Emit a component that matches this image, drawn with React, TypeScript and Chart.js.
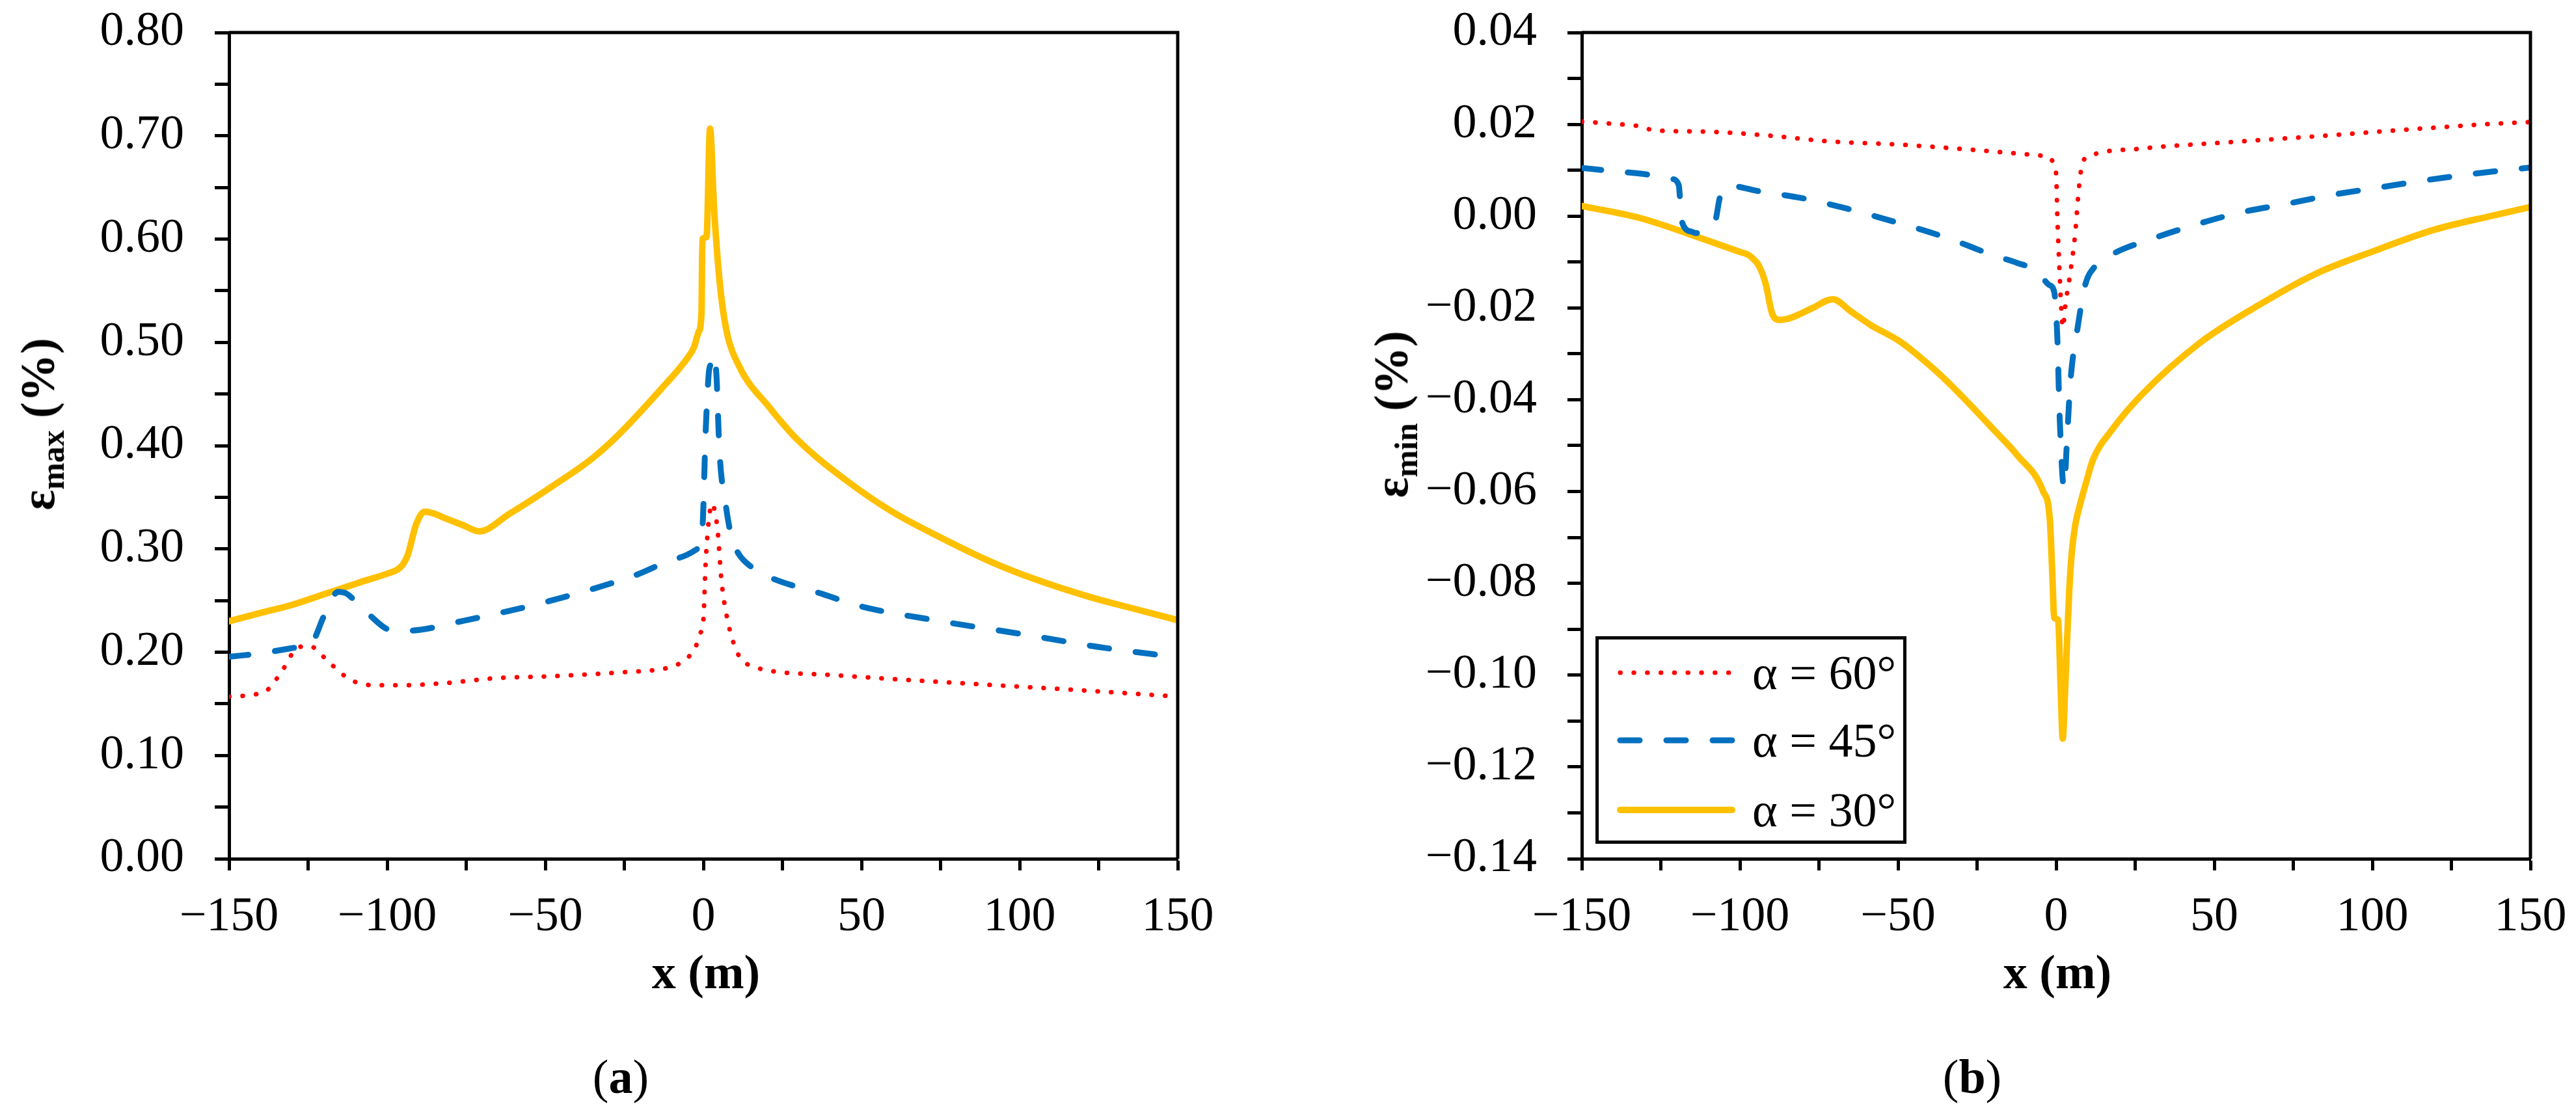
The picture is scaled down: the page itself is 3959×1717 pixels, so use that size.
import { useRef, useEffect } from 'react';
import Chart from 'chart.js/auto';

// (a) maximum strain, x in m, value in %
const maxX60 = [-150, -142, -138, -133, -128.5, -124.7, -118, -111.7, -104, -95, -82, -65, -50, -27, -12.5, -8.5, -4.5, -2.4, -1, 0, 0.7, 1.8, 2.8, 3.7, 4.5, 5.8, 7.9, 10, 12, 16, 21, 40, 60, 92.5, 120, 150];
const maxY60 = [0.157, 0.159, 0.163, 0.183, 0.204, 0.206, 0.189, 0.1735, 0.168, 0.168, 0.17, 0.175, 0.1765, 0.1803, 0.184, 0.1875, 0.196, 0.2055, 0.218, 0.231, 0.285, 0.33, 0.344, 0.335, 0.318, 0.267, 0.2276, 0.205, 0.193, 0.186, 0.182, 0.178, 0.174, 0.168, 0.163, 0.157];

const maxX45 = [-150, -140, -130, -123.7, -120.3, -117.5, -115.5, -113, -111.3, -105.2, -100.4, -96, -92.8, -75, -49.4, -22, -10, -3, -0.3, 0.7, 1.7, 2.2, 3.1, 4.1, 5.1, 7.2, 9, 11.3, 15, 21, 38, 49, 75, 101.8, 125, 150];
const maxY45 = [0.1955, 0.199, 0.204, 0.21, 0.233, 0.252, 0.2585, 0.257, 0.253, 0.235, 0.223, 0.2205, 0.2207, 0.231, 0.249, 0.274, 0.289, 0.298, 0.3216, 0.412, 0.47, 0.478, 0.488, 0.47, 0.394, 0.34, 0.31, 0.2945, 0.283, 0.2725, 0.256, 0.245, 0.23, 0.217, 0.205, 0.195];

const maxX30 = [-150, -140, -129.9, -120, -109.3, -100, -97, -95, -93.5, -90.8, -88.1, -85, -81.9, -76, -70.9, -61.3, -47.6, -35, -27, -13.3, -5, -3, -1.5, -0.6, -0.3, 1.0, 2.1, 3.4, 5.2, 7.2, 11.3, 20.9, 30, 44.9, 59.7, 75, 91.3, 105, 122.7, 135, 150];
const maxY30 = [0.23, 0.238, 0.246, 0.256, 0.267, 0.276, 0.2795, 0.285, 0.294, 0.324, 0.336, 0.334, 0.33, 0.323, 0.317, 0.334, 0.361, 0.388, 0.41, 0.455, 0.485, 0.495, 0.51, 0.528, 0.6, 0.602, 0.707, 0.629, 0.557, 0.513, 0.477, 0.437, 0.405, 0.367, 0.336, 0.311, 0.287, 0.2705, 0.253, 0.243, 0.231];

// (b) minimum strain
const minX60 = [-150, -140, -132, -128, -125, -110, -90, -72, -50, -33, -15, -5, -2, -1, 0, 0.4, 1.1, 1.8, 2.1, 3, 4.5, 6, 7.2, 8.3, 10.6, 26.8, 54.6, 82.3, 110, 137.9, 150];
const minY60 = [0.0206, 0.0201, 0.0196, 0.0188, 0.0186, 0.0184, 0.0175, 0.0163, 0.0156, 0.0148, 0.0138, 0.0132, 0.0128, 0.0118, 0.0092, -0.0004, -0.0123, -0.0221, -0.0243, -0.019, -0.0123, -0.004, 0.006, 0.0115, 0.0131, 0.0147, 0.0161, 0.0174, 0.0188, 0.0201, 0.0205];

const minX45 = [-150, -140, -129.6, -121.4, -119.3, -119, -118.3, -115.2, -113.8, -109.5, -107.7, -106.4, -104.9, -102.3, -94.6, -80.2, -66.5, -52.8, -40, -33, -20, -12.3, -6, -2.2, -0.6, 0.4, 1.1, 2.5, 3.5, 4.5, 6.8, 9.2, 12, 17.5, 30.5, 44.4, 58.3, 73.1, 87, 101.8, 115.7, 130.5, 150];
const minY45 = [0.0105, 0.0098, 0.0091, 0.0081, 0.0067, 0.0044, -0.0013, -0.0034, -0.0037, -0.0025, -0.0009, 0.0039, 0.0062, 0.0065, 0.0055, 0.0039, 0.0017, -0.0009, -0.0035, -0.0051, -0.0085, -0.0102, -0.012, -0.015, -0.0165, -0.0267, -0.0434, -0.0592, -0.048, -0.0362, -0.0243, -0.015, -0.0112, -0.0084, -0.0049, -0.0018, 0.0008, 0.0027, 0.0046, 0.0062, 0.0077, 0.0091, 0.0106];

const minX30 = [-150, -131.7, -111.1, -100, -97.4, -95.5, -94, -91.9, -89.8, -87.4, -83.7, -77, -70.6, -65, -58.7, -49.4, -40, -33, -19.1, -12.4, -4.1, -2.0, -1.2, -0.6, 0.65, 1.4, 2.1, 2.8, 3.5, 4.2, 5, 6, 7.5, 9.5, 11.7, 17.5, 26.8, 45.3, 63.8, 82.3, 100.9, 119.4, 137.9, 150];
const minY30 = [0.0022, -0.0004, -0.0051, -0.0078, -0.0084, -0.0095, -0.0108, -0.0146, -0.0212, -0.0226, -0.0221, -0.02, -0.0181, -0.0207, -0.0237, -0.0273, -0.0325, -0.037, -0.047, -0.052, -0.06, -0.066, -0.078, -0.0875, -0.088, -0.102, -0.1138, -0.104, -0.092, -0.081, -0.073, -0.0675, -0.063, -0.058, -0.053, -0.0467, -0.0391, -0.0277, -0.0195, -0.0125, -0.0075, -0.003, 0.0001, 0.002];

const seriesLabels = ['α = 60°', 'α = 45°', 'α = 30°'];
const seriesColors = ['#FF0000', '#0070C0', '#FFC000'];

const SERIF = '"Liberation Serif", "Times New Roman", serif';

const pts = (xs: number[], ys: number[]) => xs.map((x, i) => ({ x, y: ys[i] }));
const minus = (s: string) => s.replace('-', '\u2212');

const lineStyles = [
  { borderWidth: 7, borderDash: [0.5, 20.3], borderCapStyle: 'round' },
  { borderWidth: 9, borderDash: [30, 41], borderCapStyle: 'round' },
  { borderWidth: 10, borderDash: [], borderCapStyle: 'round' },
];

// top and right edges of the plot box
const frame = {
  id: 'frame',
  afterDraw(chart: any) {
    const { ctx, chartArea } = chart;
    ctx.save();
    ctx.strokeStyle = '#000';
    ctx.lineWidth = 5;
    ctx.beginPath();
    ctx.moveTo(chartArea.left, chartArea.top);
    ctx.lineTo(chartArea.right, chartArea.top);
    ctx.lineTo(chartArea.right, chartArea.bottom);
    ctx.stroke();
    ctx.restore();
  },
};

interface PanelProps {
  xs: number[][];
  ys: number[][];
  yMin: number;
  yMax: number;
  yStep: number;
  yLabelEvery: number;
}

const StrainPanel = ({ xs, ys, yMin, yMax, yStep, yLabelEvery }: PanelProps) => {
  const chartRef = useRef<HTMLCanvasElement | null>(null);
  const chartInstance = useRef<Chart | null>(null);

  useEffect(() => {
    if (!chartRef.current) return;
    if (chartInstance.current) chartInstance.current.destroy();

    const tickFont = { family: SERIF, size: 74 };

    chartInstance.current = new Chart(chartRef.current, {
      type: 'line',
      data: {
        datasets: xs.map((x, i) => ({
          label: seriesLabels[i],
          data: pts(x, ys[i]),
          borderColor: seriesColors[i],
          backgroundColor: seriesColors[i],
          pointRadius: 0,
          fill: false,
          cubicInterpolationMode: 'monotone',
          ...lineStyles[i],
        })) as any,
      },
      options: {
        animation: false,
        responsive: true,
        maintainAspectRatio: false,
        events: [],
        layout: { padding: { top: 50, right: 70, bottom: 0, left: 0 } },
        scales: {
          x: {
            type: 'linear',
            min: -150,
            max: 150,
            afterFit: (s: any) => {
              s.height = 140;
              s.paddingLeft = 0;
              s.paddingRight = 0;
            },
            ticks: {
              stepSize: 25,
              autoSkip: false,
              maxRotation: 0,
              padding: 28,
              color: '#000',
              font: tickFont,
              callback: (v: any) => {
                const n = Math.round(Number(v));
                return n % 50 === 0 ? minus(String(n)) : '';
              },
            },
            grid: { drawOnChartArea: false, drawTicks: true, tickLength: 18, tickWidth: 5, tickColor: '#000' },
            border: { display: true, color: '#000', width: 5 },
          },
          y: {
            type: 'linear',
            min: yMin,
            max: yMax,
            afterFit: (s: any) => {
              s.width = 352;
              s.paddingTop = 0;
              s.paddingBottom = 0;
            },
            ticks: {
              stepSize: yStep,
              autoSkip: false,
              padding: 47,
              color: '#000',
              font: tickFont,
              callback: (v: any) => {
                const k = Math.round(Number(v) * 100);
                return k % yLabelEvery === 0 ? minus((k / 100).toFixed(2)) : '';
              },
            },
            grid: { drawOnChartArea: false, drawTicks: true, tickLength: 22, tickWidth: 5, tickColor: '#000' },
            border: { display: true, color: '#000', width: 5 },
          },
        },
        plugins: {
          legend: { display: false },
          tooltip: { enabled: false },
        },
      },
      plugins: [frame],
    });

    return () => {
      if (chartInstance.current) {
        chartInstance.current.destroy();
        chartInstance.current = null;
      }
    };
  }, [xs, ys, yMin, yMax, yStep, yLabelEvery]);

  return <canvas ref={chartRef}></canvas>;
};

const text = (extra: any) => ({
  position: 'absolute' as const,
  fontFamily: SERIF,
  fontSize: 74,
  lineHeight: '74px',
  color: '#000',
  whiteSpace: 'nowrap' as const,
  ...extra,
});

const YTitle = ({ sub, left, top }: { sub: string; left: number; top: number }) => (
  <div style={text({ left, top, fontWeight: 'bold', transform: 'translate(-50%, -50%) rotate(-90deg)' })}>
    ε<sub style={{ fontSize: 50, verticalAlign: '-0.3em', lineHeight: 0 }}>{sub}</sub> (%)
  </div>
);

const LegendRow = ({ i, top }: { i: number; top: number }) => {
  const st = lineStyles[i];
  return (
    <>
      <svg style={{ position: 'absolute', left: 2480, top: top - 10 }} width={200} height={20}>
        <line
          x1={10}
          y1={10}
          x2={182}
          y2={10}
          stroke={seriesColors[i]}
          strokeWidth={st.borderWidth}
          strokeLinecap="round"
          strokeDasharray={st.borderDash.length ? st.borderDash.join(' ') : undefined}
        />
      </svg>
      <div style={text({ left: 2693, top: top - 37 })}>{seriesLabels[i]}</div>
    </>
  );
};

const App = () => (
  <div style={{ position: 'absolute', left: 0, top: 0, width: 3959, height: 1717, background: '#fff', overflow: 'hidden' }}>
    <div style={{ position: 'absolute', left: 0, top: 0, width: 1880, height: 1460 }}>
      <StrainPanel xs={[maxX60, maxX45, maxX30]} ys={[maxY60, maxY45, maxY30]} yMin={0} yMax={0.8} yStep={0.05} yLabelEvery={10} />
    </div>
    <div style={{ position: 'absolute', left: 2079, top: 0, width: 1880, height: 1460 }}>
      <StrainPanel xs={[minX60, minX45, minX30]} ys={[minY60, minY45, minY30]} yMin={-0.14} yMax={0.04} yStep={0.01} yLabelEvery={2} />
    </div>

    <YTitle sub="max" left={58} top={652} />
    <YTitle sub="min" left={2138} top={637} />

    <div style={text({ left: 1085, top: 1494, fontWeight: 'bold', transform: 'translate(-50%, -50%)' })}>x (m)</div>
    <div style={text({ left: 3162, top: 1494, fontWeight: 'bold', transform: 'translate(-50%, -50%)' })}>x (m)</div>

    <div style={text({ left: 954, top: 1655, transform: 'translate(-50%, -50%)' })}>
      (<b>a</b>)
    </div>
    <div style={text({ left: 3031, top: 1655, transform: 'translate(-50%, -50%)' })}>
      (<b>b</b>)
    </div>

    <div
      style={{
        position: 'absolute',
        left: 2452,
        top: 978,
        width: 478,
        height: 319,
        border: '5px solid #000',
        boxSizing: 'border-box',
        background: '#fff',
      }}
    />
    <LegendRow i={0} top={1034} />
    <LegendRow i={1} top={1138} />
    <LegendRow i={2} top={1245} />
  </div>
);

export default App;
